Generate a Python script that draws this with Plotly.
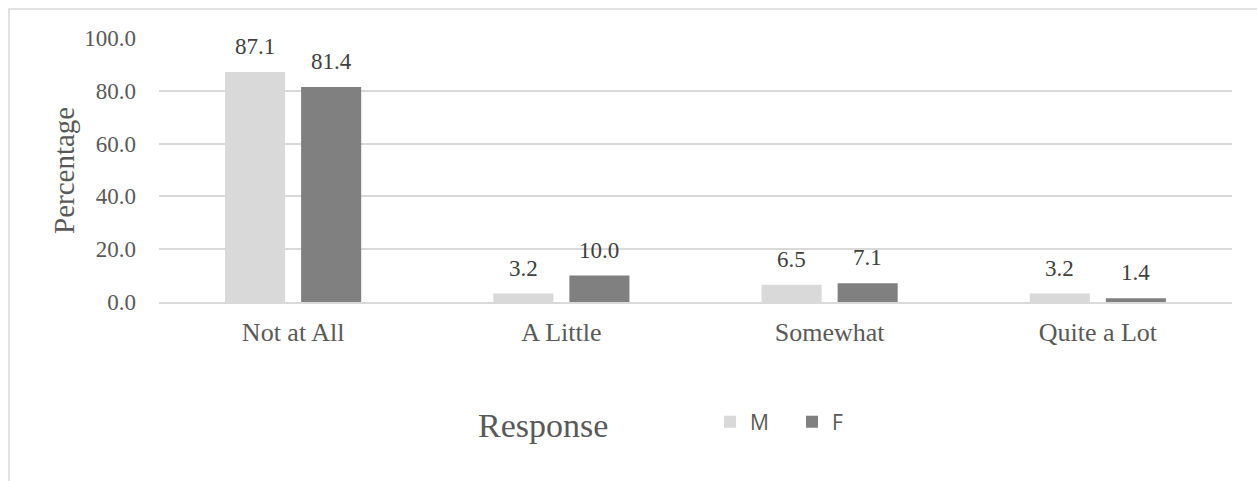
import plotly.graph_objects as go

categories = ["Not at All", "A Little", "Somewhat", "Quite a Lot"]
male = [87.1, 3.2, 6.5, 3.2]
female = [81.4, 10.0, 7.1, 1.4]
y_ticks = [0, 20, 40, 60, 80, 100]

SERIF = "Liberation Serif, Times New Roman, serif"
TXT = "#595959"
LBL = "#404040"

W, H = 1257, 481
L, R, T, B = 159, 25, 38, 179
pw, ph = W - L - R, H - T - B


def px_x(p):
    return (p - L) / pw


def px_y(p):
    return (H - B - p) / ph


fig = go.Figure()
fig.add_trace(go.Bar(x=categories, y=male, name="M",
                     marker=dict(color="#d9d9d9", line=dict(width=0))))
fig.add_trace(go.Bar(x=categories, y=female, name="F",
                     marker=dict(color="#808080", line=dict(width=0))))

# value labels above each bar, offset to the bar's slot in the group
annotations = []
for vals, shift in ((male, -38), (female, 38)):
    for cat, v in zip(categories, vals):
        annotations.append(dict(
            x=cat, y=v, xref="x", yref="y", text=f"{v:.1f}", showarrow=False,
            xshift=shift, yshift=11, xanchor="center", yanchor="bottom",
            font=dict(family=SERIF, size=23, color=LBL),
        ))

annotations.append(dict(
    text="Response", x=px_x(543), y=px_y(425), xref="paper", yref="paper",
    showarrow=False, font=dict(family=SERIF, size=34, color=TXT),
    xanchor="center", yanchor="middle",
))
annotations.append(dict(
    text="Percentage", x=px_x(64), y=px_y(171), xref="paper", yref="paper",
    showarrow=False, textangle=-90, font=dict(family=SERIF, size=29, color=TXT),
    xanchor="center", yanchor="middle",
))

fig.update_layout(
    width=W, height=H,
    margin=dict(l=L, r=R, t=T, b=B),
    paper_bgcolor="white", plot_bgcolor="white",
    barmode="group", bargap=0.433, bargroupgap=0.21,
    showlegend=True,
    legend=dict(
        orientation="h", x=px_x(710), y=px_y(422), xanchor="left", yanchor="middle",
        font=dict(family="Open Sans, sans-serif", size=21, color=TXT),
        bgcolor="rgba(0,0,0,0)", entrywidth=37,
    ),
    xaxis=dict(
        showgrid=False, showline=True, linecolor="#d9d9d9", linewidth=2,
        ticks="", tickfont=dict(family=SERIF, size=26, color=TXT),
        ticklabelstandoff=6,
    ),
    yaxis=dict(
        range=[0, 100], tickvals=y_ticks, ticktext=[f"{v:.1f}" for v in y_ticks],
        showgrid=True, gridcolor="#d9d9d9", gridwidth=1.5, zeroline=False,
        showline=False, ticks="", tickfont=dict(family=SERIF, size=23, color=TXT),
        ticklabelstandoff=22,
    ),
    annotations=annotations,
    shapes=[dict(
        type="rect", xref="paper", yref="paper",
        x0=px_x(9), x1=px_x(1270), y0=px_y(500), y1=px_y(9),
        line=dict(color="#d9d9d9", width=1.5), fillcolor="rgba(0,0,0,0)", layer="below",
    )],
)

fig.write_html("out.html")
